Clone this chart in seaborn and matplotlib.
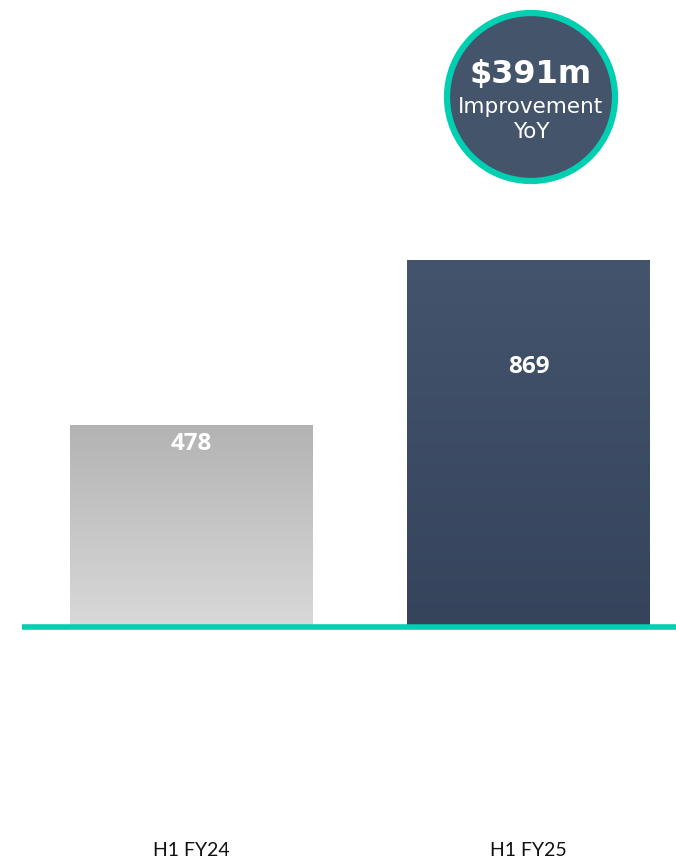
import numpy as np
import pandas as pd
import matplotlib
matplotlib.use('Agg')
import matplotlib.pyplot as plt
import seaborn as sns
from matplotlib.patches import Circle
from matplotlib.colors import LinearSegmentedColormap

# Data
periods = ['H1 FY24', 'H1 FY25']
values = [478, 869]
improvement = '$391m'
badge_lines = ['Improvement', 'YoY']

TEAL = '#00CFB1'
NAVY = '#44546A'
grads = [('#B3B3B3', '#D9D9D9'), ('#44546D', '#35445B')]

sns.set_theme(style='white')
plt.rcParams['font.family'] = ['Lato', 'DejaVu Sans']

W, H, DPI = 676, 859, 100
fig = plt.figure(figsize=(W / DPI, H / DPI), dpi=DPI)
base_px = 627
ax = fig.add_axes([0, (H - base_px) / H, 1, base_px / H])

df = pd.DataFrame({'period': periods, 'value': values})
sns.barplot(data=df, x='period', y='value', width=243 / 337, color='white',
            saturation=1, ax=ax)

ax.set_xlim(-191.5 / 337, 1 + (W - 528.5) / 337)
ax.set_ylim(0, values[0] * base_px / 202)
ax.set_xlabel('')
ax.set_ylabel('')
ax.set_yticks([])
sns.despine(ax=ax, left=True, bottom=True, right=True, top=True)
ax.tick_params(axis='x', length=0, pad=155, labelsize=14, labelcolor='#111111')

# gradient fills clipped to the bars
for patch, (top, bot) in zip(ax.patches, grads):
    x0, y0 = patch.get_x(), patch.get_y()
    w, h = patch.get_width(), patch.get_height()
    cmap = LinearSegmentedColormap.from_list('g', [top, bot])
    grad = np.linspace(0, 1, 256).reshape(-1, 1)
    im = ax.imshow(grad, cmap=cmap, aspect='auto', extent=[x0, x0 + w, y0, y0 + h],
                   origin='upper', zorder=2)
    im.set_clip_path(patch)
    patch.set_edgecolor('none')

# value labels
label_y = [434, 616]
for i, (v, ly) in enumerate(zip(values, label_y)):
    ax.text(i, ly, f'{v}', ha='center', va='center', color='white',
            fontsize=17.5, fontweight='bold', family='Open Sans', zorder=3)

# teal baseline
ax.axhline(0, xmin=22 / W, xmax=1, color=TEAL, lw=4, zorder=4, clip_on=False,
           solid_capstyle='butt')

# badge
cx, cy = 531 / DPI, (H - 97) / DPI
badge = Circle((cx, cy), 84 / DPI, transform=fig.dpi_scale_trans,
               facecolor=NAVY, edgecolor=TEAL, linewidth=4.5)
fig.patches.append(badge)
fig.text(531 / W, 1 - 75 / H, improvement, ha='center', va='center', color='white',
         fontsize=23, fontweight='bold', family='DejaVu Sans')
fig.text(531 / W, 1 - 107 / H, badge_lines[0], ha='center', va='center',
         color='white', fontsize=15.5, family='DejaVu Sans')
fig.text(531 / W, 1 - 132 / H, badge_lines[1], ha='center', va='center',
         color='white', fontsize=15.5, family='DejaVu Sans')

fig.savefig('out.png', dpi=DPI)
